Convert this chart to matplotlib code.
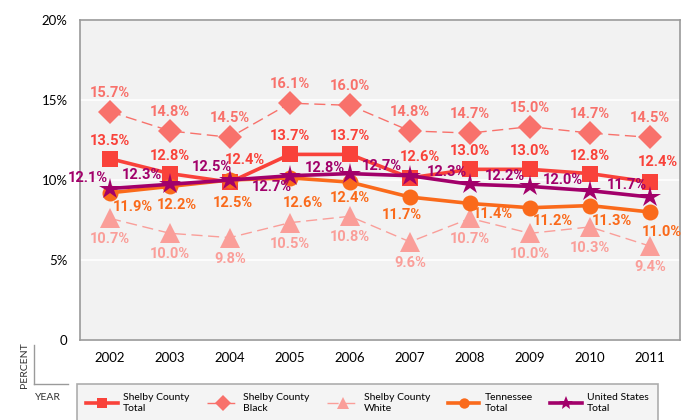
import matplotlib
matplotlib.use("Agg")
import matplotlib.pyplot as plt
from matplotlib.lines import Line2D

# --- data (percent) ---
years = [2002, 2003, 2004, 2005, 2006, 2007, 2008, 2009, 2010, 2011]
shelby_total = [13.5, 12.8, 12.4, 13.7, 13.7, 12.6, 13.0, 13.0, 12.8, 12.4]
shelby_black = [15.7, 14.8, 14.5, 16.1, 16.0, 14.8, 14.7, 15.0, 14.7, 14.5]
shelby_white = [10.7, 10.0, 9.8, 10.5, 10.8, 9.6, 10.7, 10.0, 10.3, 9.4]
tennessee = [11.9, 12.2, 12.5, 12.6, 12.4, 11.7, 11.4, 11.2, 11.3, 11.0]
united_states = [12.1, 12.3, 12.5, 12.7, 12.8, 12.7, 12.3, 12.2, 12.0, 11.7]

# the original chart's axis runs 5..20 but its ticks read 0..20%
ytick_pos = [5, 8.75, 12.5, 16.25, 20]
ytick_labels = ["0", "5%", "10%", "15%", "20%"]

# label offsets in pixels (dx, dy) for each point
px = 0.72
off_total = [(0, 18), (0, 18), (15, 22), (0, 18), (0, 18), (10, 21), (0, 18), (0, 18), (0, 18), (8, 20)]
off_black = [(0, 19)] * 10
off_white = [(0, -21)] * 10
off_tn = [(23, -14), (7, -19), (3, -23), (13, -25), (0, -16), (-8, -18), (23, -11), (23, -13), (22, -15), (12, -20)]
off_us = [(-22, 11), (-28, 9), (-18, 13), (-18, -11), (-25, 6), (-28, 10), (-23, 12), (-25, 10), (-27, 11), (-23, 12)]

C_TOTAL = "#F9423A"
C_BLACK = "#F8716B"
C_WHITE = "#FA9E99"
C_TN = "#FA6A1B"
C_US = "#A2006A"

label_font = ["Liberation Sans Narrow", "Roboto"]
tick_font = ["Lato", "DejaVu Sans"]

fig = plt.figure(figsize=(7, 4.2), dpi=100)
ax = fig.add_axes([80 / 700, 1 - 340 / 420, 600 / 700, 320 / 420])
ax.set_facecolor("#F2F2F2")

series = [
    ("Shelby County\nWhite", shelby_white, C_WHITE, "^", 14, 1.0, (0, (8, 4)), off_white, 2),
    ("Shelby County\nBlack", shelby_black, C_BLACK, "D", 12, 1.0, (0, (8, 4)), off_black, 3),
    ("Shelby County\nTotal", shelby_total, C_TOTAL, "s", 11.5, 2.6, "-", off_total, 4),
    ("Tennessee\nTotal", tennessee, C_TN, "o", 11.5, 2.6, "-", off_tn, 5),
    ("United States\nTotal", united_states, C_US, "*", 16, 2.6, "-", off_us, 6),
]

handles = {}
for name, vals, col, mk, ms, lw, ls, offs, z in series:
    ln, = ax.plot(years, vals, color=col, marker=mk, markersize=ms, lw=lw,
                  linestyle=ls, markeredgewidth=0, zorder=z)
    handles[name] = ln
    for x, v, (dx, dy) in zip(years, vals, offs):
        ax.annotate(f"{v:.1f}%", (x, v), xytext=(dx * px, dy * px),
                    textcoords="offset points", ha="center", va="center",
                    fontsize=10.5, fontweight="bold", color=col,
                    family=label_font, zorder=10)

ax.set_xlim(2001.5, 2011.5)
ax.set_ylim(5, 20)
ax.set_xticks(years)
ax.set_xticklabels([str(y) for y in years], family=tick_font, fontsize=9.5)
ax.set_yticks(ytick_pos)
ax.set_yticklabels(ytick_labels, family=tick_font, fontsize=9.5)
ax.tick_params(length=0, pad=9)
ax.grid(axis="y", color="white", lw=1.2)
ax.set_axisbelow(True)
for s in ax.spines.values():
    s.set_color("#9A9A9A")
    s.set_linewidth(1.2)

# corner "PERCENT / YEAR" key
fig.text(25 / 700, 1 - 365 / 420, "PERCENT", rotation=90, ha="center", va="center",
         fontsize=7.5, color="#333333", family=tick_font)
fig.text(35 / 700, 1 - 397 / 420, "YEAR", ha="left", va="center",
         fontsize=7.5, color="#333333", family=tick_font)
fig.add_artist(Line2D([34 / 700, 34 / 700], [1 - 345 / 420, 1 - 384 / 420],
                      transform=fig.transFigure, color="#9A9A9A", lw=1))
fig.add_artist(Line2D([34 / 700, 68 / 700], [1 - 384 / 420, 1 - 384 / 420],
                      transform=fig.transFigure, color="#9A9A9A", lw=1))

order = ["Shelby County\nTotal", "Shelby County\nBlack", "Shelby County\nWhite",
         "Tennessee\nTotal", "United States\nTotal"]
leg = fig.legend([handles[k] for k in order], order, ncol=5, loc="upper left",
                 bbox_to_anchor=(77 / 700, 1 - 384 / 420), frameon=True,
                 fancybox=False, prop={"family": tick_font, "size": 7.5},
                 handlelength=3.0, handletextpad=0.5, columnspacing=1.7,
                 borderpad=0.9, borderaxespad=0, markerscale=0.65)
leg.get_frame().set_facecolor("#F2F2F2")
leg.get_frame().set_edgecolor("#9A9A9A")
leg.get_frame().set_linewidth(1.2)

fig.savefig("out.png", dpi=100)
